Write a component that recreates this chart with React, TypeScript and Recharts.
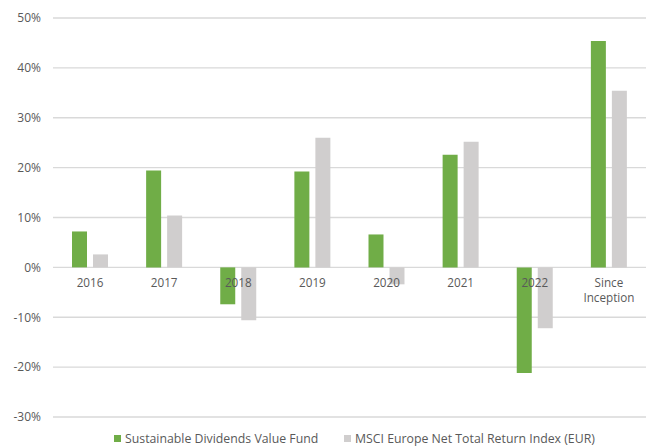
import { BarChart, Bar, XAxis, YAxis, CartesianGrid, Legend } from "recharts";

const categories = ["2016", "2017", "2018", "2019", "2020", "2021", "2022", "Since Inception"];
const fundReturns = [7.2, 19.4, -7.4, 19.2, 6.6, 22.6, -21.2, 45.4];
const indexReturns = [2.6, 10.4, -10.6, 26.0, -3.4, 25.2, -12.2, 35.4];
const yTicks = [-30, -20, -10, 0, 10, 20, 30, 40, 50];

const FUND_NAME = "Sustainable Dividends Value Fund";
const INDEX_NAME = "MSCI Europe Net Total Return Index (EUR)";

const WIDTH = 646;
const HEIGHT = 446;
const TOP = 18;
const AXIS_H = 1;
const LEGEND_H = 28;
const PLOT_H = HEIGHT - TOP - LEGEND_H - AXIS_H;
const Y_MIN = -30;
const Y_MAX = 50;
const FONT = "'Open Sans', sans-serif";
const TEXT = "#595959";

const data = categories.map((name, i) => ({
  name,
  fund: fundReturns[i],
  index: indexReturns[i],
}));

// labels sit just under the 0% line instead of the plot bottom
const CategoryTick = (props: any) => {
  const { x, payload } = props;
  const zeroY = TOP + (PLOT_H * Y_MAX) / (Y_MAX - Y_MIN);
  const words = payload.value === "Since Inception" ? ["Since", "Inception"] : [payload.value];
  return (
    <g>
      {words.map((w: string, i: number) => (
        <text
          key={w}
          x={x}
          y={zeroY + 20 + i * 14.5}
          textAnchor="middle"
          fill={TEXT}
          fontSize={11.7}
          fontFamily={FONT}
        >
          {w}
        </text>
      ))}
    </g>
  );
};

const LegendContent = () => (
  <div
    style={{
      position: "relative",
      height: LEGEND_H,
      fontFamily: FONT,
      fontSize: 12.3,
      color: TEXT,
    }}
  >
    {[
      { label: FUND_NAME, color: "#70AD47", left: 114 },
      { label: INDEX_NAME, color: "#D0CECE", left: 344 },
    ].map((item) => (
      <div
        key={item.label}
        style={{
          position: "absolute",
          left: item.left,
          top: 12,
          display: "flex",
          alignItems: "center",
          whiteSpace: "nowrap",
        }}
      >
        <span style={{ width: 7, height: 7, background: item.color, marginRight: 4 }} />
        <span>{item.label}</span>
      </div>
    ))}
  </div>
);

export default function App() {
  return (
    <div style={{ width: WIDTH, height: HEIGHT, background: "#fff" }}>
      <style>{`body{margin:0}`}</style>
      <BarChart
        width={WIDTH}
        height={HEIGHT}
        data={data}
        margin={{ top: TOP, right: 0, left: 0, bottom: 0 }}
        barGap={6}
        barCategoryGap={0}
      >
        <CartesianGrid vertical={false} stroke="#D9D9D9" strokeWidth={1.3} />
        <XAxis
          dataKey="name"
          axisLine={false}
          tickLine={false}
          tickSize={0}
          tick={<CategoryTick />}
          interval={0}
          height={AXIS_H}
        />
        <YAxis
          width={53}
          domain={[Y_MIN, Y_MAX]}
          ticks={yTicks}
          axisLine={false}
          tickLine={false}
          tickSize={0}
          tickMargin={12}
          tickFormatter={(v: number) => `${v}%`}
          tick={{ fill: TEXT, fontSize: 12, fontFamily: FONT }}
        />
        <Legend verticalAlign="bottom" height={LEGEND_H} content={<LegendContent />} />
        <Bar dataKey="fund" name={FUND_NAME} fill="#70AD47" barSize={15} isAnimationActive={false} />
        <Bar dataKey="index" name={INDEX_NAME} fill="#D0CECE" barSize={15} isAnimationActive={false} />
      </BarChart>
    </div>
  );
}
